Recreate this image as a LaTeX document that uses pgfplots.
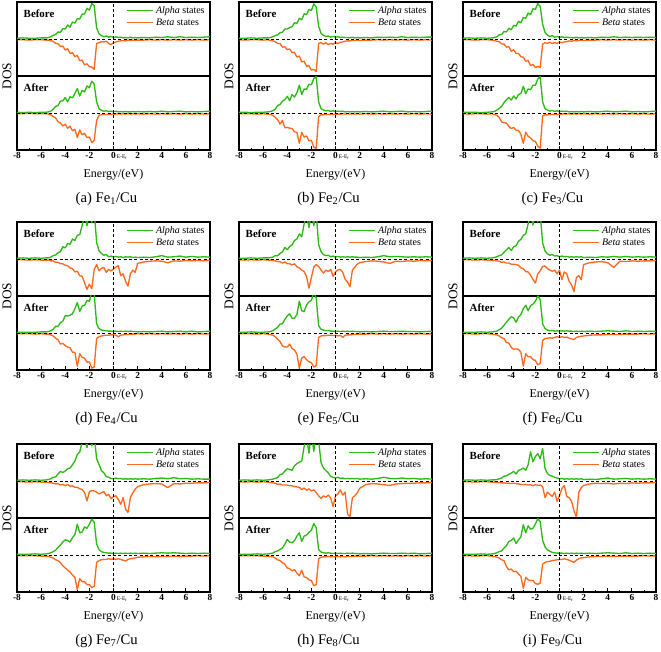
\documentclass[border=0pt]{standalone}
\usepackage{fontspec}
\setmainfont{Liberation Serif}
\usepackage{pgfplots}
\usepackage{pgfplotstable}
\pgfplotsset{compat=1.18}
\definecolor{gc}{RGB}{44,186,20}
\definecolor{oc}{RGB}{255,105,30}

\pgfplotstableread{
x ab bb aa ba
-8.0 .02 -.02 .02 -.02
-7.5 .03 -.02 .01 -.02
-7.0 .02 -.03 .02 -.01
-6.5 .02 -.02 .01 -.02
-6.0 .03 -.02 .02 -.02
-5.6 .03 -.03 .02 -.02
-5.4 .04 -.03 .03 -.03
-5.2 .06 -.05 .05 -.05
-5.0 .10 -.06 .10 -.10
-4.8 .12 -.12 .18 -.13
-4.6 .19 -.13 .20 -.24
-4.4 .18 -.20 .32 -.27
-4.2 .28 -.19 .33 -.35
-4.0 .27 -.30 .42 -.30
-3.8 .38 -.26 .30 -.41
-3.6 .32 -.39 .44 -.36
-3.4 .46 -.37 .41 -.48
-3.2 .43 -.48 .53 -.44
-3.0 .55 -.44 .66 -.66
-2.8 .54 -.59 .46 -.46
-2.6 .67 -.57 .61 -.59
-2.4 .68 -.70 .57 -.55
-2.2 .83 -.67 .73 -.66
-2.0 .78 -.75 .68 -.65
-1.8 .96 -.76 .86 -.80
-1.6 .90 -.82 .78 -.74
-1.4 .30 -.12 .30 -.20
-1.2 .14 -.10 .12 -.06
-1.0 .09 -.07 .07 -.05
-0.8 .06 -.08 .05 -.04
-0.6 .08 -.06 .06 -.04
-0.4 .05 -.12 .04 -.03
-0.2 .07 -.15 .05 -.04
0.0 .04 -.10 .03 -.03
0.2 .06 -.08 .05 -.03
0.4 .04 -.06 .03 -.02
0.6 .05 -.05 .04 -.03
0.8 .03 -.04 .03 -.02
1.0 .04 -.05 .04 -.03
1.2 .03 -.03 .03 -.02
1.4 .05 -.04 .03 -.03
1.6 .03 -.03 .04 -.02
1.8 .04 -.04 .03 -.03
2.0 .03 -.03 .04 -.02
2.5 .04 -.03 .03 -.03
3.0 .03 -.02 .04 -.02
3.5 .05 -.03 .03 -.03
4.0 .04 -.02 .05 -.02
4.5 .06 -.03 .03 -.03
5.0 .04 -.02 .04 -.02
5.5 .06 -.03 .05 -.03
6.0 .04 -.02 .03 -.02
6.5 .05 -.03 .04 -.03
7.0 .04 -.02 .03 -.02
7.5 .05 -.03 .04 -.03
8.0 .06 -.02 .05 -.02
}\tA

\pgfplotstableread{
x ab bb aa ba
-8.0 .02 -.02 .02 -.02
-7.5 .02 -.03 .02 -.02
-7.0 .03 -.02 .01 -.02
-6.5 .02 -.02 .02 -.03
-6.0 .03 -.03 .02 -.02
-5.6 .03 -.02 .03 -.03
-5.4 .04 -.04 .04 -.04
-5.2 .06 -.05 .06 -.06
-5.0 .09 -.07 .10 -.12
-4.8 .11 -.12 .20 -.18
-4.6 .17 -.12 .23 -.30
-4.4 .18 -.22 .32 -.20
-4.2 .27 -.21 .36 -.40
-4.0 .27 -.29 .45 -.39
-3.8 .31 -.27 .33 -.41
-3.6 .33 -.37 .50 -.42
-3.4 .44 -.36 .43 -.51
-3.2 .42 -.49 .55 -.52
-3.0 .56 -.46 .75 -.82
-2.8 .52 -.62 .50 -.52
-2.6 .68 -.60 .65 -.65
-2.4 .66 -.74 .64 -.62
-2.2 .80 -.72 .78 -.75
-2.0 .77 -.84 .76 -.74
-1.8 .95 -.82 .93 -.92
-1.6 .86 -.88 .98 -.96
-1.4 .35 -.12 .30 -.10
-1.2 .15 -.10 .12 -.05
-1.0 .10 -.14 .08 -.05
-0.8 .07 -.10 .06 -.04
-0.6 .08 -.15 .07 -.04
-0.4 .05 -.12 .04 -.03
-0.2 .07 -.14 .06 -.04
0.0 .05 -.10 .04 -.03
0.2 .06 -.12 .05 -.03
0.4 .04 -.09 .04 -.03
0.6 .05 -.08 .05 -.02
0.8 .04 -.06 .03 -.03
1.0 .04 -.05 .04 -.02
1.2 .03 -.05 .03 -.03
1.4 .05 -.04 .04 -.02
1.6 .03 -.04 .03 -.03
1.8 .04 -.03 .04 -.02
2.0 .03 -.04 .03 -.03
2.5 .04 -.03 .04 -.02
3.0 .03 -.03 .03 -.03
3.5 .05 -.02 .04 -.02
4.0 .04 -.03 .05 -.03
4.5 .05 -.02 .03 -.02
5.0 .04 -.03 .04 -.03
5.5 .06 -.02 .05 -.02
6.0 .04 -.03 .03 -.03
6.5 .05 -.02 .04 -.02
7.0 .04 -.03 .03 -.03
7.5 .05 -.02 .04 -.02
8.0 .05 -.03 .05 -.03
}\tB

\pgfplotstableread{
x ab bb aa ba
-8.0 .02 -.02 .02 -.02
-7.5 .03 -.02 .02 -.03
-7.0 .02 -.03 .02 -.02
-6.5 .03 -.02 .01 -.02
-6.0 .02 -.02 .02 -.03
-5.6 .03 -.03 .03 -.02
-5.4 .04 -.04 .04 -.04
-5.2 .06 -.06 .08 -.06
-5.0 .11 -.07 .12 -.12
-4.8 .12 -.13 .18 -.24
-4.6 .20 -.14 .28 -.26
-4.4 .19 -.22 .36 -.27
-4.2 .29 -.21 .42 -.36
-4.0 .25 -.33 .35 -.42
-3.8 .37 -.29 .46 -.39
-3.6 .35 -.39 .38 -.47
-3.4 .48 -.39 .50 -.47
-3.2 .44 -.48 .53 -.58
-3.0 .58 -.49 .72 -.82
-2.8 .56 -.60 .52 -.52
-2.6 .70 -.58 .65 -.63
-2.4 .66 -.72 .63 -.67
-2.2 .82 -.69 .75 -.75
-2.0 .80 -.77 .75 -.77
-1.8 .96 -.74 .92 -.90
-1.6 .88 -.77 .98 -.95
-1.4 .40 -.14 .30 -.08
-1.2 .18 -.10 .12 -.05
-1.0 .10 -.12 .08 -.05
-0.8 .07 -.09 .05 -.04
-0.6 .09 -.12 .07 -.04
-0.4 .05 -.10 .04 -.03
-0.2 .07 -.12 .06 -.04
0.0 .04 -.08 .04 -.03
0.2 .06 -.10 .05 -.03
0.4 .04 -.08 .04 -.02
0.6 .05 -.07 .05 -.03
0.8 .04 -.05 .03 -.02
1.0 .04 -.06 .04 -.03
1.2 .03 -.04 .03 -.02
1.4 .05 -.05 .04 -.03
1.6 .03 -.04 .03 -.02
1.8 .04 -.03 .04 -.03
2.0 .03 -.04 .03 -.02
2.5 .04 -.03 .04 -.03
3.0 .03 -.03 .03 -.02
3.5 .05 -.02 .04 -.03
4.0 .04 -.03 .05 -.02
4.5 .06 -.02 .03 -.03
5.0 .04 -.03 .04 -.02
5.5 .05 -.02 .05 -.03
6.0 .04 -.03 .03 -.02
6.5 .05 -.02 .04 -.03
7.0 .04 -.03 .03 -.02
7.5 .05 -.02 .04 -.03
8.0 .04 -.03 .05 -.02
}\tC

\pgfplotstableread{
x ab bb aa ba
-8.0 .02 -.02 .02 -.02
-7.5 .03 -.02 .02 -.02
-7.0 .02 -.03 .02 -.02
-6.5 .03 -.02 .02 -.03
-6.0 .02 -.03 .03 -.02
-5.6 .03 -.03 .03 -.03
-5.4 .03 -.03 .04 -.03
-5.2 .05 -.05 .06 -.05
-5.0 .09 -.05 .10 -.08
-4.8 .11 -.09 .18 -.14
-4.6 .17 -.09 .18 -.18
-4.4 .20 -.13 .28 -.30
-4.2 .33 -.13 .32 -.28
-4.0 .30 -.17 .47 -.34
-3.8 .42 -.18 .46 -.38
-3.6 .40 -.24 .48 -.40
-3.4 .54 -.26 .52 -.52
-3.2 .50 -.35 .66 -.52
-3.0 .64 -.33 .82 -.90
-2.8 .66 -.45 .58 -.56
-2.6 .90 -.47 .73 -.66
-2.4 1.20 -.64 .75 -.68
-2.2 .90 -.82 .88 -.79
-2.0 1.25 -.68 .86 -.78
-1.8 .98 -.80 1.10 -.95
-1.6 1.30 -.28 1.05 -.92
-1.4 .45 -.15 .25 -.15
-1.2 .22 -.32 .12 -.10
-1.0 .15 -.25 .08 -.08
-0.8 .10 -.23 .07 -.07
-0.6 .12 -.36 .06 -.06
-0.4 .06 -.28 .05 -.06
-0.2 .08 -.32 .05 -.05
0.0 .05 -.27 .04 -.05
0.2 .07 -.22 .05 -.06
0.4 .05 -.18 .04 -.10
0.6 .06 -.45 .05 -.06
0.8 .04 -.40 .04 -.05
1.0 .06 -.60 .05 -.04
1.2 .05 -.73 .04 -.04
1.4 .06 -.40 .05 -.03
1.6 .04 -.30 .04 -.03
1.8 .05 -.36 .04 -.03
2.0 .04 -.12 .03 -.02
2.5 .05 -.08 .04 -.03
3.0 .04 -.06 .03 -.02
3.5 .06 -.05 .04 -.03
4.0 .09 -.06 .05 -.02
4.5 .05 -.10 .03 -.03
5.0 .06 -.05 .04 -.02
5.5 .08 -.06 .05 -.03
6.0 .05 -.04 .03 -.02
6.5 .07 -.05 .05 -.03
7.0 .05 -.04 .03 -.02
7.5 .06 -.05 .04 -.03
8.0 .05 -.04 .05 -.02
}\tD

\pgfplotstableread{
x ab bb aa ba
-8.0 .02 -.02 .02 -.02
-7.5 .02 -.03 .02 -.02
-7.0 .03 -.02 .03 -.02
-6.5 .02 -.03 .02 -.03
-6.0 .03 -.02 .02 -.02
-5.6 .03 -.03 .03 -.03
-5.4 .04 -.03 .04 -.04
-5.2 .05 -.04 .06 -.06
-5.0 .09 -.05 .11 -.10
-4.8 .09 -.07 .15 -.17
-4.6 .15 -.07 .24 -.23
-4.4 .19 -.11 .25 -.35
-4.2 .31 -.08 .37 -.38
-4.0 .25 -.13 .46 -.38
-3.8 .34 -.13 .52 -.30
-3.6 .38 -.16 .40 -.42
-3.4 .50 -.13 .40 -.46
-3.2 .54 -.21 .50 -.57
-3.0 .68 -.24 .86 -.95
-2.8 .60 -.30 .60 -.68
-2.6 .95 -.34 .58 -.64
-2.4 1.20 -.47 .76 -.72
-2.2 .85 -.79 .84 -.78
-2.0 1.25 -.50 .88 -.80
-1.8 .90 -.22 1.10 -.92
-1.6 1.25 -.15 .95 -.88
-1.4 .39 -.20 .20 -.12
-1.2 .20 -.30 .10 -.08
-1.0 .12 -.38 .08 -.07
-0.8 .09 -.30 .06 -.07
-0.6 .10 -.34 .07 -.06
-0.4 .06 -.28 .05 -.06
-0.2 .08 -.47 .05 -.07
0.0 .05 -.35 .04 -.06
0.2 .07 -.30 .05 -.08
0.4 .05 -.28 .04 -.06
0.6 .06 -.36 .05 -.12
0.8 .05 -.55 .04 -.06
1.0 .06 -.62 .05 -.05
1.2 .05 -.75 .04 -.05
1.4 .06 -.30 .05 -.04
1.6 .05 -.22 .04 -.04
1.8 .05 -.14 .04 -.03
2.0 .04 -.10 .03 -.03
2.5 .05 -.07 .04 -.03
3.0 .04 -.05 .03 -.02
3.5 .06 -.06 .04 -.03
4.0 .09 -.08 .05 -.02
4.5 .06 -.12 .04 -.03
5.0 .07 -.06 .04 -.02
5.5 .06 -.07 .05 -.03
6.0 .05 -.05 .04 -.02
6.5 .06 -.06 .04 -.03
7.0 .05 -.04 .03 -.02
7.5 .06 -.05 .04 -.03
8.0 .05 -.04 .05 -.02
}\tE

\pgfplotstableread{
x ab bb aa ba
-8.0 .02 -.02 .02 -.02
-7.5 .03 -.02 .02 -.02
-7.0 .02 -.03 .02 -.03
-6.5 .03 -.02 .03 -.02
-6.0 .02 -.03 .02 -.02
-5.6 .03 -.03 .03 -.03
-5.4 .04 -.04 .04 -.04
-5.2 .06 -.05 .05 -.05
-5.0 .09 -.06 .09 -.08
-4.8 .11 -.09 .13 -.13
-4.6 .18 -.08 .21 -.15
-4.4 .25 -.11 .29 -.26
-4.2 .31 -.11 .37 -.27
-4.0 .23 -.14 .44 -.39
-3.8 .33 -.14 .41 -.44
-3.6 .36 -.15 .29 -.43
-3.4 .48 -.17 .43 -.44
-3.2 .53 -.24 .50 -.52
-3.0 .64 -.26 .66 -.90
-2.8 .68 -.34 .75 -.56
-2.6 .95 -.35 .60 -.64
-2.4 1.20 -.44 .74 -.64
-2.2 .92 -.55 .78 -.72
-2.0 1.25 -.65 .86 -.74
-1.8 1.00 -.40 1.00 -.86
-1.6 1.25 -.32 .90 -.82
-1.4 .43 -.20 .25 -.20
-1.2 .22 -.19 .12 -.15
-1.0 .14 -.26 .08 -.14
-0.8 .10 -.30 .06 -.13
-0.6 .12 -.33 .07 -.14
-0.4 .08 -.30 .05 -.12
-0.2 .09 -.40 .06 -.10
0.0 .06 -.30 .05 -.12
0.2 .08 -.56 .06 -.10
0.4 .06 -.35 .05 -.12
0.6 .07 -.40 .06 -.11
0.8 .05 -.60 .05 -.14
1.0 .06 -.70 .05 -.16
1.2 .05 -.88 .04 -.18
1.4 .06 -.50 .05 -.12
1.6 .05 -.45 .04 -.10
1.8 .06 -.56 .05 -.09
2.0 .04 -.15 .04 -.08
2.5 .05 -.10 .05 -.06
3.0 .04 -.08 .04 -.05
3.5 .06 -.07 .05 -.05
4.0 .05 -.10 .06 -.04
4.5 .07 -.23 .05 -.04
5.0 .05 -.06 .04 -.04
5.5 .07 -.07 .06 -.03
6.0 .05 -.05 .04 -.03
6.5 .06 -.06 .05 -.03
7.0 .05 -.05 .04 -.02
7.5 .06 -.05 .05 -.03
8.0 .05 -.04 .04 -.02
}\tF

\pgfplotstableread{
x ab bb aa ba
-8.0 .02 -.02 .02 -.02
-7.5 .03 -.02 .02 -.02
-7.0 .02 -.03 .02 -.02
-6.5 .03 -.02 .03 -.02
-6.0 .02 -.03 .02 -.03
-5.6 .03 -.03 .03 -.03
-5.4 .04 -.04 .04 -.04
-5.2 .06 -.05 .06 -.06
-5.0 .10 -.06 .09 -.08
-4.8 .11 -.08 .13 -.13
-4.6 .19 -.07 .21 -.15
-4.4 .26 -.11 .27 -.21
-4.2 .23 -.09 .35 -.29
-4.0 .27 -.13 .41 -.35
-3.8 .33 -.09 .39 -.41
-3.6 .35 -.14 .35 -.46
-3.4 .44 -.13 .47 -.54
-3.2 .54 -.17 .55 -.61
-3.0 .72 -.17 .83 -.93
-2.8 .78 -.21 .60 -.64
-2.6 1.05 -.23 .62 -.72
-2.4 1.20 -.31 .76 -.72
-2.2 .90 -.54 .72 -.80
-2.0 1.30 -.29 .83 -.80
-1.8 .95 -.26 .97 -.88
-1.6 1.25 -.27 .88 -.85
-1.4 .60 -.30 .30 -.20
-1.2 .45 -.35 .14 -.15
-1.0 .28 -.32 .09 -.13
-0.8 .22 -.28 .07 -.12
-0.6 .12 -.40 .06 -.12
-0.4 .10 -.36 .05 -.10
-0.2 .07 -.48 .05 -.12
0.0 .06 -.42 .04 -.10
0.2 .08 -.40 .05 -.12
0.4 .06 -.50 .04 -.10
0.6 .07 -.63 .05 -.12
0.8 .05 -.45 .04 -.14
1.0 .06 -.76 .05 -.16
1.2 .05 -.85 .04 -.12
1.4 .06 -.45 .05 -.10
1.6 .05 -.32 .04 -.09
1.8 .06 -.22 .05 -.08
2.0 .05 -.15 .04 -.06
2.5 .06 -.10 .05 -.05
3.0 .05 -.08 .04 -.04
3.5 .07 -.07 .05 -.05
4.0 .08 -.08 .06 -.04
4.5 .06 -.18 .05 -.04
5.0 .09 -.07 .06 -.03
5.5 .06 -.08 .05 -.04
6.0 .07 -.06 .04 -.03
6.5 .05 -.06 .05 -.03
7.0 .06 -.05 .04 -.02
7.5 .05 -.05 .05 -.03
8.0 .05 -.04 .04 -.02
}\tG

\pgfplotstableread{
x ab bb aa ba
-8.0 .02 -.02 .02 -.02
-7.5 .03 -.03 .02 -.02
-7.0 .02 -.02 .02 -.02
-6.5 .03 -.03 .03 -.02
-6.0 .02 -.02 .02 -.03
-5.6 .03 -.03 .03 -.03
-5.4 .04 -.04 .04 -.04
-5.2 .05 -.05 .05 -.05
-5.0 .07 -.06 .09 -.08
-4.8 .09 -.09 .11 -.13
-4.6 .17 -.08 .15 -.15
-4.4 .19 -.11 .19 -.21
-4.2 .27 -.11 .29 -.25
-4.0 .33 -.11 .42 -.35
-3.8 .31 -.13 .35 -.37
-3.6 .29 -.13 .33 -.43
-3.4 .41 -.15 .39 -.39
-3.2 .47 -.16 .51 -.49
-3.0 .51 -.17 .60 -.56
-2.8 .54 -.23 .37 -.41
-2.6 .93 -.19 .51 -.59
-2.4 1.20 -.25 .54 -.61
-2.2 .75 -.21 .61 -.67
-2.0 1.30 -.27 .67 -.69
-1.8 .80 -.24 .85 -.83
-1.6 1.25 -.31 .74 -.80
-1.4 1.10 -.40 .15 -.10
-1.2 .50 -.47 .08 -.06
-1.0 .35 -.40 .06 -.05
-0.8 .28 -.44 .05 -.05
-0.6 .22 -.38 .06 -.04
-0.4 .12 -.46 .05 -.05
-0.2 .10 -.69 .04 -.04
0.0 .08 -.40 .05 -.05
0.2 .10 -.35 .04 -.04
0.4 .07 -.24 .05 -.05
0.6 .08 -.38 .04 -.04
0.8 .06 -.30 .04 -.05
1.0 .07 -.90 .05 -.04
1.2 .06 -.96 .04 -.04
1.4 .07 -.45 .05 -.04
1.6 .06 -.40 .04 -.03
1.8 .07 -.32 .04 -.03
2.0 .05 -.20 .03 -.03
2.5 .06 -.10 .04 -.03
3.0 .05 -.07 .03 -.02
3.5 .07 -.08 .04 -.03
4.0 .10 -.10 .05 -.02
4.5 .07 -.12 .04 -.03
5.0 .06 -.08 .04 -.02
5.5 .08 -.07 .05 -.03
6.0 .06 -.06 .04 -.02
6.5 .07 -.06 .05 -.03
7.0 .05 -.05 .03 -.02
7.5 .06 -.05 .04 -.03
8.0 .05 -.04 .05 -.02
}\tH

\pgfplotstableread{
x ab bb aa ba
-8.0 .02 -.02 .02 -.02
-7.5 .03 -.02 .02 -.02
-7.0 .02 -.03 .02 -.03
-6.5 .03 -.02 .03 -.02
-6.0 .02 -.02 .02 -.02
-5.6 .03 -.03 .03 -.03
-5.4 .03 -.03 .04 -.04
-5.2 .04 -.04 .06 -.06
-5.0 .06 -.04 .09 -.08
-4.8 .08 -.05 .11 -.13
-4.6 .13 -.05 .19 -.15
-4.4 .14 -.06 .25 -.31
-4.2 .18 -.06 .37 -.40
-4.0 .21 -.07 .39 -.38
-3.8 .26 -.06 .46 -.45
-3.6 .19 -.07 .31 -.44
-3.4 .29 -.08 .41 -.51
-3.2 .31 -.09 .49 -.58
-3.0 .35 -.10 .82 -.90
-2.8 .29 -.09 .60 -.60
-2.6 .44 -.11 .79 -.67
-2.4 .79 -.10 .70 -.69
-2.2 .52 -.13 .72 -.69
-2.0 .66 -.10 .84 -.77
-1.8 .74 -.12 .98 -.79
-1.6 .60 -.11 .90 -.76
-1.4 .88 -.15 .40 -.25
-1.2 .34 -.45 .22 -.20
-1.0 .20 -.30 .14 -.18
-0.8 .15 -.36 .10 -.17
-0.6 .13 -.42 .07 -.15
-0.4 .10 -.30 .06 -.14
-0.2 .08 -.55 .05 -.13
0.0 .06 -.40 .05 -.12
0.2 .07 -.20 .05 -.12
0.4 .05 -.12 .04 -.10
0.6 .06 -.42 .05 -.12
0.8 .05 -.45 .04 -.14
1.0 .06 -.55 .05 -.17
1.2 .05 -.80 .04 -.20
1.4 .06 -.98 .05 -.14
1.6 .05 -.30 .04 -.10
1.8 .06 -.18 .05 -.08
2.0 .04 -.12 .04 -.07
2.5 .05 -.08 .05 -.05
3.0 .04 -.06 .04 -.04
3.5 .06 -.07 .05 -.04
4.0 .08 -.06 .06 -.03
4.5 .05 -.08 .05 -.04
5.0 .06 -.06 .04 -.03
5.5 .07 -.07 .06 -.03
6.0 .05 -.05 .04 -.03
6.5 .06 -.06 .05 -.03
7.0 .05 -.05 .04 -.02
7.5 .06 -.05 .05 -.03
8.0 .05 -.04 .04 -.02
}\tI

\pgfplotsset{
  dosbase/.style={
    scale only axis, width=144.75pt, height=55.5pt, anchor=north west,
    xmin=-8, xmax=8, ymin=-1, ymax=1, ytick=\empty,
    axis line style={line width=0.9pt},
  },
  dosbefore/.style={dosbase, xtick=\empty,
    legend style={at={(0.56,1)}, anchor=north west, draw=none, fill=none,
      font=\fontsize{7.5}{8}\selectfont, inner sep=1pt, row sep=-1.5pt},
    legend image code/.code={\draw[##1] (0pt,0pt) -- (19pt,0pt);},
    legend cell align=left},
  dosafter/.style={dosbase,
    xtick={-8,-6,-4,-2,0,2,4,6,8},
    xticklabels={-8,-6,-4,-2,0\rlap{\fontsize{4.2}{4}\selectfont\mdseries\,E-E\textsubscript{f}},2,4,6,8},
    minor x tick num=1, xtick pos=bottom,
    major tick length=3pt, minor tick length=1.6pt,
    tick style={black, line width=0.6pt},
    xticklabel style={font=\fontsize{7}{8}\selectfont\bfseries, inner sep=1.5pt}},
  alph/.style={gc, line width=1pt, line join=round},
  bet/.style={oc, line width=1pt, line join=round},
}

\newcommand{\zerolines}{%
  \draw[black, line width=0.55pt, dash pattern=on 2.2pt off 1.8pt] (axis cs:-8,0) -- (axis cs:8,0);
  \draw[black, line width=0.55pt, dash pattern=on 2.2pt off 1.8pt] (axis cs:0,-1) -- (axis cs:0,1);}

\newcommand{\panel}[4]{%
  \begin{axis}[dosbefore, at={({#1*0.75pt},{-#2*0.75pt})}]
    \addplot[alph] table[x=x,y=ab]{#3};
    \addplot[bet] table[x=x,y=bb]{#3};
    \legend{\textit{Alpha} states,\textit{Beta} states}
    \zerolines
  \end{axis}
  \begin{axis}[dosafter, at={({#1*0.75pt},{-(#2+74)*0.75pt})}]
    \addplot[alph] table[x=x,y=aa]{#3};
    \addplot[bet] table[x=x,y=ba]{#3};
    \zerolines
  \end{axis}
  \node[anchor=west, font=\fontsize{8.2}{9}\selectfont\bfseries] at ({(#1+2)*0.75pt},{-(#2+12)*0.75pt}) {Before};
  \node[anchor=west, font=\fontsize{8.2}{9}\selectfont\bfseries] at ({(#1+2)*0.75pt},{-(#2+86)*0.75pt}) {After};
  \node[rotate=90, font=\fontsize{10}{11}\selectfont] at ({(#1-10)*0.75pt},{-(#2+74)*0.75pt}) {DOS};
  \node[font=\fontsize{9}{10}\selectfont] at ({(#1+96.5)*0.75pt},{-(#2+173)*0.75pt}) {Energy/(eV)};
  \node[font=\fontsize{11}{12}\selectfont] at ({(#1+89.5)*0.75pt},{-(#2+197)*0.75pt}) {#4};
}

\begin{document}
\begin{tikzpicture}
\path[use as bounding box] (0,0) rectangle ({661*0.75pt},{-652*0.75pt});
\panel{17}{2}{\tA}{(a) Fe\textsubscript{1}/Cu}
\panel{239}{2}{\tB}{(b) Fe\textsubscript{2}/Cu}
\panel{463}{2}{\tC}{(c) Fe\textsubscript{3}/Cu}
\panel{17}{222}{\tD}{(d) Fe\textsubscript{4}/Cu}
\panel{239}{222}{\tE}{(e) Fe\textsubscript{5}/Cu}
\panel{463}{222}{\tF}{(f) Fe\textsubscript{6}/Cu}
\panel{17}{444}{\tG}{(g) Fe\textsubscript{7}/Cu}
\panel{239}{444}{\tH}{(h) Fe\textsubscript{8}/Cu}
\panel{463}{444}{\tI}{(i) Fe\textsubscript{9}/Cu}
\end{tikzpicture}
\end{document}
